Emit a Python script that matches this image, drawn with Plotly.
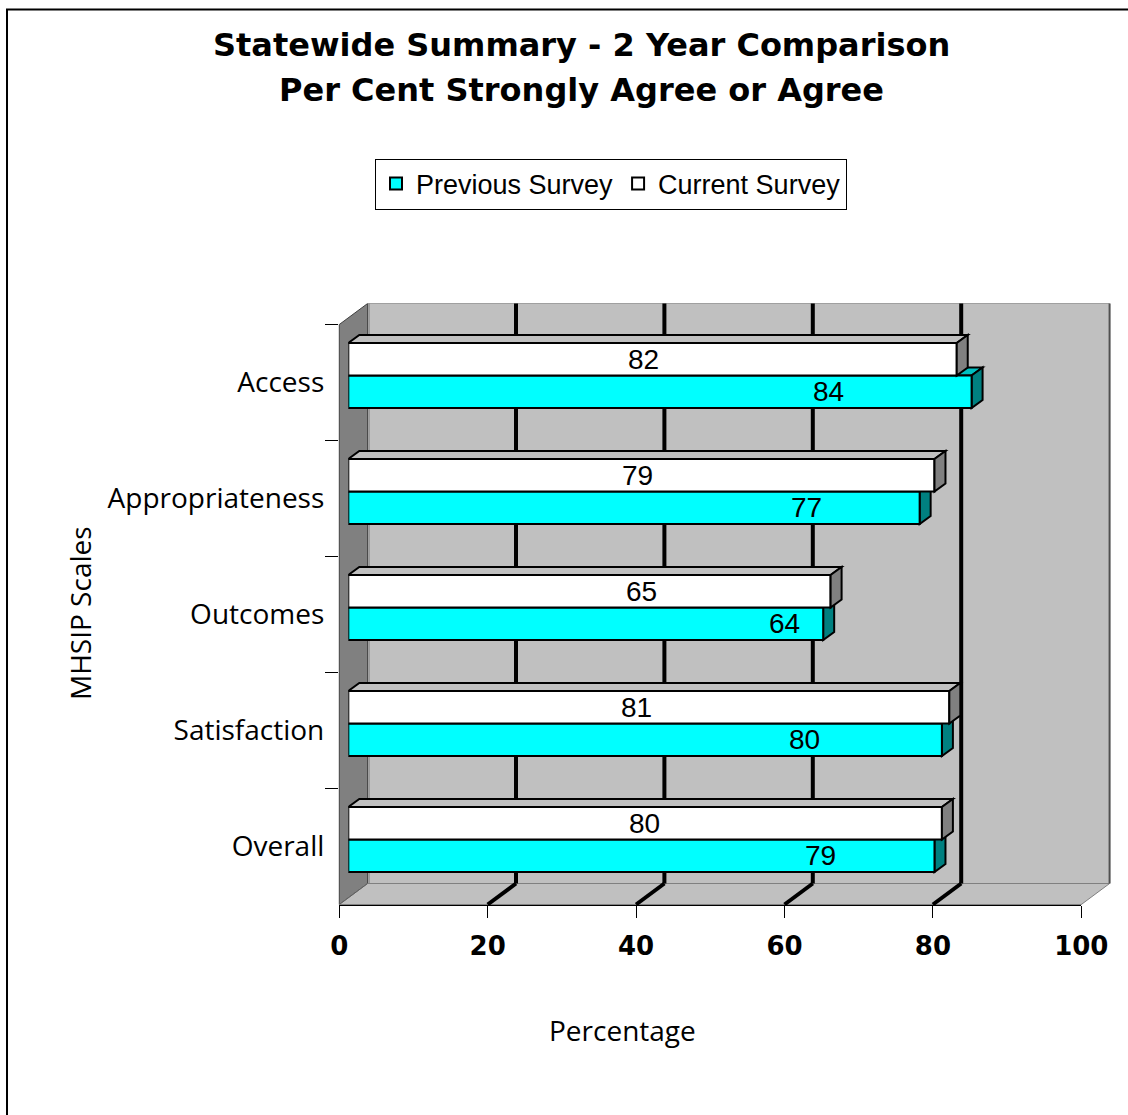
import plotly.graph_objects as go

# ---------------- data ----------------
categories = ["Access", "Appropriateness", "Outcomes", "Satisfaction", "Overall"]
previous_survey = [84, 77, 64, 80, 79]
current_survey = [82, 79, 65, 81, 80]
x_ticks = [0, 20, 40, 60, 80, 100]

# ---------------- label placement (axis units) ----------------
current_label_x = [39.8, 39.0, 39.5, 38.9, 39.9]
previous_label_x = [64.7, 61.8, 58.8, 61.5, 63.6]

# ---------------- layout geometry (pixels) ----------------
W, H = 1128, 1115
X0, UNIT, XMAX = 339.3, 7.42, 100
FLOOR_Y, TOP_Y = 904.5, 324.5
WALL_DX, WALL_DY = 28.3, 21
BAR_DX0, BAR_DY0 = 9, 7
FACE_DX, FACE_DY = 11, 8
BARGAP = 0.44

CYAN, CYAN_SIDE, CYAN_TOP = "#00FFFF", "#008080", "#00C0C0"
WHITE_SIDE, WHITE_TOP = "#808080", "#C0C0C0"
WALL, WALL_DARK = "#C0C0C0", "#808080"


def px(x):
    return x / W


def py(y):
    return 1 - y / H


def ppath(points):
    return "M" + " L".join(f"{px(a):.5f},{py(b):.5f}" for a, b in points) + " Z"


n = len(categories)
pos = [n - 1 - i for i in range(n)]
band_px = (FLOOR_Y - TOP_Y) / n
bar_w = (1 - BARGAP) / 2
half_h = bar_w * band_px / 2
face_ddx = FACE_DX / UNIT

fig = go.Figure()

# invisible trace establishing the category axis of the front plane
fig.add_trace(go.Scatter(x=current_survey, y=categories, mode="markers",
                         marker=dict(opacity=0), showlegend=False,
                         hoverinfo="skip", xaxis="x", yaxis="y"))

fig.add_trace(go.Bar(name="Previous Survey", x=previous_survey, y=pos, orientation="h",
                     marker=dict(color=CYAN, line=dict(color="black", width=2)),
                     xaxis="x2", yaxis="y2", hovertext=categories, hoverinfo="x+text"))
fig.add_trace(go.Bar(name="Current Survey", x=current_survey, y=pos, orientation="h",
                     marker=dict(color="white", line=dict(color="black", width=2)),
                     xaxis="x2", yaxis="y2", hovertext=categories, hoverinfo="x+text"))

shapes = []
back_left = X0 + WALL_DX
back_right = X0 + XMAX * UNIT + WALL_DX
back_top = TOP_Y - WALL_DY
back_bottom = FLOOR_Y - WALL_DY
front_right = X0 + XMAX * UNIT

# figure border (left / top)
shapes.append(dict(type="path", xref="paper", yref="paper", layer="below",
                   path=f"M{px(7):.5f},0 L{px(7):.5f},{py(9.5):.5f} L1,{py(9.5):.5f}",
                   line=dict(color="black", width=2)))
# back wall
shapes.append(dict(type="rect", xref="paper", yref="paper", layer="below",
                   x0=px(back_left), x1=px(back_right), y0=py(back_bottom), y1=py(back_top),
                   fillcolor=WALL, line=dict(width=0)))
# left wall
shapes.append(dict(type="path", xref="paper", yref="paper", layer="below",
                   path=ppath([(X0, TOP_Y), (back_left, back_top), (back_left, back_bottom), (X0, FLOOR_Y)]),
                   fillcolor=WALL_DARK, line=dict(color="#404040", width=1)))
# floor
shapes.append(dict(type="path", xref="paper", yref="paper", layer="below",
                   path=ppath([(X0, FLOOR_Y), (back_left, back_bottom), (back_right, back_bottom), (front_right, FLOOR_Y)]),
                   fillcolor=WALL, line=dict(color="#808080", width=1)))
# wall edges
shapes.append(dict(type="line", xref="paper", yref="paper", layer="below",
                   x0=px(back_left), x1=px(back_right), y0=py(back_top), y1=py(back_top),
                   line=dict(color="#A0A0A0", width=1)))
shapes.append(dict(type="line", xref="paper", yref="paper", layer="below",
                   x0=px(back_right), x1=px(back_right), y0=py(back_top), y1=py(back_bottom),
                   line=dict(color="#505050", width=2)))
shapes.append(dict(type="line", xref="paper", yref="paper", layer="below",
                   x0=px(back_left + 1.5), x1=px(back_left + 1.5), y0=py(back_top), y1=py(back_bottom),
                   line=dict(color="#808080", width=1)))

# gridlines on back wall and floor
for v in x_ticks:
    inner = 0 < v < XMAX
    lw = 4 if inner else 1
    col = "black" if inner else "#606060"
    if inner:
        shapes.append(dict(type="line", xref="x", yref="paper", layer="below",
                           xsizemode="pixel", xanchor=v, x0=WALL_DX, x1=WALL_DX,
                           y0=py(back_bottom), y1=py(back_top),
                           line=dict(color=col, width=lw)))
    shapes.append(dict(type="line", xref="x", yref="paper", layer="below",
                       xsizemode="pixel", xanchor=v, x0=0, x1=WALL_DX,
                       y0=py(FLOOR_Y), y1=py(back_bottom),
                       line=dict(color=col, width=lw)))

# 3-D faces of the bars (x in axis units, y in pixels from the bar centre)
h = half_h
for i in range(n):
    for vals, yc, side_col, top_col, layer in (
        (previous_survey, pos[i] - bar_w / 2, CYAN_SIDE, CYAN_TOP, "below"),
        (current_survey, pos[i] + bar_w / 2, WHITE_SIDE, WHITE_TOP, "above"),
    ):
        v = vals[i]
        shapes.append(dict(type="path", xref="x2", yref="y2", layer=layer,
                           ysizemode="pixel", yanchor=yc,
                           path=f"M0,{h:.2f} L{v},{h:.2f} L{v + face_ddx:.3f},{h + FACE_DY:.2f} L{face_ddx:.3f},{h + FACE_DY:.2f} Z",
                           fillcolor=top_col, line=dict(color="black", width=2)))
        shapes.append(dict(type="path", xref="x2", yref="y2", layer=layer,
                           ysizemode="pixel", yanchor=yc,
                           path=f"M{v},{-h:.2f} L{v},{h:.2f} L{v + face_ddx:.3f},{h + FACE_DY:.2f} L{v + face_ddx:.3f},{-h + FACE_DY:.2f} Z",
                           fillcolor=side_col, line=dict(color="black", width=2)))

annotations = []
label_font = dict(family="Liberation Sans", size=28, color="black")
for i in range(n):
    annotations.append(dict(xref="x2", yref="y2", x=current_label_x[i], y=pos[i] + bar_w / 2,
                            text=str(current_survey[i]), showarrow=False, font=label_font))
    annotations.append(dict(xref="x2", yref="y2", x=previous_label_x[i], y=pos[i] - bar_w / 2,
                            text=str(previous_survey[i]), showarrow=False, font=label_font))

title_font = dict(family="DejaVu Sans", size=32, color="black", weight="bold")
annotations.append(dict(xref="paper", yref="paper", x=px(581), y=py(45),
                        text="Statewide Summary - 2 Year Comparison", showarrow=False,
                        font=title_font, xanchor="center", yanchor="middle"))
annotations.append(dict(xref="paper", yref="paper", x=px(581), y=py(90),
                        text="Per Cent Strongly Agree or Agree", showarrow=False,
                        font=title_font, xanchor="center", yanchor="middle"))

axis_font = dict(family="Open Sans", size=28, color="black")
# axis titles
annotations.append(dict(xref="paper", yref="paper", x=px(622), y=py(1030),
                        text="Percentage", showarrow=False, font=axis_font,
                        xanchor="center", yanchor="middle"))
annotations.append(dict(xref="paper", yref="paper", x=px(80), y=py(613),
                        text="MHSIP Scales", showarrow=False, font=axis_font, textangle=-90,
                        xanchor="center", yanchor="middle"))

fig.update_layout(
    width=W, height=H, autosize=False,
    margin=dict(l=0, r=0, t=0, b=0, pad=0, autoexpand=False),
    paper_bgcolor="white",
    plot_bgcolor="rgba(0,0,0,0)",
    barmode="group", bargap=BARGAP, bargroupgap=0,
    showlegend=True,
    legend=dict(orientation="h", x=px(611), xanchor="center", y=py(184), yanchor="middle",
                bordercolor="black", borderwidth=1, bgcolor="white",
                font=dict(family="Liberation Sans", size=27, color="black"),
                traceorder="normal", itemwidth=30),
    xaxis=dict(domain=[px(X0), px(front_right)], range=[0, XMAX], tickvals=x_ticks,
               ticks="outside", ticklen=12, tickcolor="black", tickwidth=1,
               showline=True, linecolor="black", linewidth=1, automargin=False,
               showgrid=False, zeroline=False, anchor="y", fixedrange=True,
               ticklabelstandoff=6,
               tickfont=dict(family="DejaVu Sans", size=26, color="black", weight="bold")),
    yaxis=dict(domain=[py(FLOOR_Y), py(TOP_Y)], type="category", categoryorder="array",
               categoryarray=categories[::-1], range=[-0.5, n - 0.5],
               ticks="outside", tickson="boundaries", ticklen=13, tickcolor="black", tickwidth=1,
               showline=False, showgrid=False, zeroline=False, anchor="x", fixedrange=True,
               automargin=False, ticklabelstandoff=14,
               tickfont=axis_font),
    xaxis2=dict(domain=[px(X0 + BAR_DX0), px(X0 + BAR_DX0 + XMAX * UNIT)], range=[0, XMAX],
                visible=False, anchor="y2", fixedrange=True, automargin=False),
    yaxis2=dict(domain=[py(FLOOR_Y - BAR_DY0), py(TOP_Y - BAR_DY0)], range=[-0.5, n - 0.5],
                visible=False, anchor="x2", fixedrange=True, automargin=False),
    shapes=shapes,
    annotations=annotations,
)

fig.write_html("out.html")
